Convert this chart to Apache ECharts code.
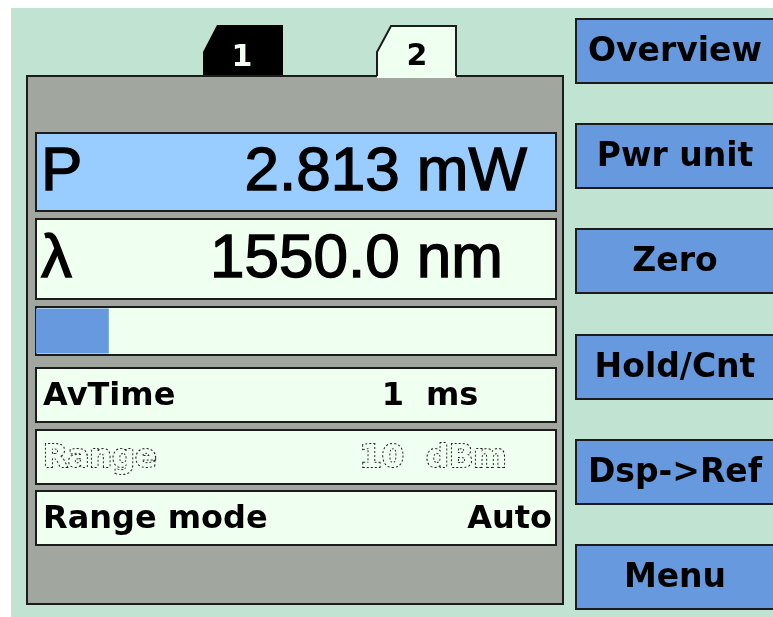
<!DOCTYPE html>
<html>
<head>
<meta charset="utf-8">
<title>Power meter</title>
<script src="https://cdn.jsdelivr.net/npm/echarts@6/dist/echarts.min.js"></script>
<style>
  html, body { margin: 0; padding: 0; background: #ffffff; }
  #chart { width: 773px; height: 617px; }
</style>
</head>
<body>
<div id="chart"></div>
<script>
// data
const tabLabels = ['1', '2'];
const softKeys = ['Overview', 'Pwr unit', 'Zero', 'Hold/Cnt', 'Dsp->Ref', 'Menu'];
const readingNames = ['P', 'λ'];
const readingValues = ['2.813 mW', '1550.0 nm'];
const settingNames = ['AvTime', 'Range', 'Range mode'];
const settingNumbers = ['1', '10', ''];
const settingUnits = ['ms', 'dBm', 'Auto'];
const levelCategories = ['level'];
const levelValues = [14]; // percent of the bar row

const GREEN = '#c1e3d1';
const PANEL = '#a1a69f';
const FIELD = '#effff0';
const BLUE = '#6699dd';
const LINE = '#1c1c1c';
const SMALL = 'bold 32px "DejaVu Sans"';
const BIG = '62px "Liberation Sans"';

let myChart = echarts.init(document.getElementById('chart'));

let g = [];
// background
g.push({ type: 'rect', z: 0, shape: { x: 11, y: 8, width: 800, height: 700 }, style: { fill: GREEN } });

// tabs
g.push({
  type: 'polygon', z: 0,
  shape: { points: [[203, 76], [203, 52], [217, 25], [283, 25], [283, 76]] },
  style: { fill: '#000' }
});
g.push({
  type: 'text', z: 3, x: 242, y: 58,
  style: { text: tabLabels[0], fill: '#f4fff4', font: 'bold 30px "DejaVu Sans"', align: 'center', verticalAlign: 'middle' }
});

// main panel
g.push({
  type: 'rect', z: 0,
  shape: { x: 27, y: 76, width: 536, height: 528 },
  style: { fill: PANEL, stroke: LINE, lineWidth: 2 }
});

// tab 2 (active, open to the panel)
g.push({
  type: 'polygon', z: 1,
  shape: { points: [[377, 78], [377, 52], [391, 25], [456, 25], [456, 78]] },
  style: { fill: FIELD }
});
g.push({
  type: 'polyline', z: 1,
  shape: { points: [[377, 76], [377, 52], [391, 26], [456, 26], [456, 76]] },
  style: { stroke: LINE, lineWidth: 2, fill: null }
});
g.push({
  type: 'text', z: 3, x: 417, y: 57,
  style: { text: tabLabels[1], fill: '#000', font: 'bold 30px "DejaVu Sans"', align: 'center', verticalAlign: 'middle' }
});

// big readings
const readRows = [[133, 78, '#99ccff', 527], [219, 80, FIELD, 503]];
readRows.forEach((r, i) => {
  g.push({
    type: 'rect', z: 1,
    shape: { x: 36, y: r[0], width: 520, height: r[1] },
    style: { fill: r[2], stroke: LINE, lineWidth: 2 }
  });
  g.push({
    type: 'text', z: 3, x: 41, y: r[0] + r[1] / 2 + 1,
    style: { text: readingNames[i], fill: '#000', stroke: '#000', lineWidth: 1.4, font: BIG, verticalAlign: 'middle' }
  });
  g.push({
    type: 'text', z: 3, x: r[3], y: r[0] + r[1] / 2 + 1,
    style: { text: readingValues[i], fill: '#000', stroke: '#000', lineWidth: 1.4, font: BIG, align: 'right', verticalAlign: 'middle' }
  });
});

// settings rows
const setRows = [368, 430, 491];
setRows.forEach((y, i) => {
  const h = 54;
  const cy = y + h / 2 + 2;
  const dim = settingNames[i] === 'Range';
  // the disabled row is drawn as a dotted outline
  const txt = dim
    ? { fill: FIELD, stroke: '#222', lineWidth: 2, lineDash: [2, 2] }
    : { fill: '#000' };
  g.push({
    type: 'rect', z: 1,
    shape: { x: 36, y: y, width: 520, height: h },
    style: { fill: FIELD, stroke: LINE, lineWidth: 2 }
  });
  g.push({
    type: 'text', z: 3, x: 43, y: cy,
    style: Object.assign({ text: settingNames[i], font: SMALL, verticalAlign: 'middle' }, txt)
  });
  if (settingNumbers[i]) {
    g.push({
      type: 'text', z: 3, x: 404, y: cy,
      style: Object.assign({ text: settingNumbers[i], font: SMALL, align: 'right', verticalAlign: 'middle' }, txt)
    });
    g.push({
      type: 'text', z: 3, x: 426, y: cy,
      style: Object.assign({ text: settingUnits[i], font: SMALL, verticalAlign: 'middle' }, txt)
    });
  } else {
    g.push({
      type: 'text', z: 3, x: 552, y: cy,
      style: Object.assign({ text: settingUnits[i], font: SMALL, align: 'right', verticalAlign: 'middle' }, txt)
    });
  }
});

// soft keys
softKeys.forEach((k, i) => {
  const y = 19 + Math.round(i * 105.2);
  g.push({
    type: 'rect', z: 1,
    shape: { x: 576, y: y, width: 220, height: 64 },
    style: { fill: BLUE, stroke: LINE, lineWidth: 2 }
  });
  g.push({
    type: 'text', z: 3, x: 675, y: y + 33,
    style: { text: k, fill: '#000', font: 'bold 33px "DejaVu Sans"', align: 'center', verticalAlign: 'middle' }
  });
});

let option = {
  animation: false,
  graphic: { elements: g },
  grid: {
    show: true,
    left: 36,
    top: 307,
    width: 520,
    height: 48,
    z: 1,
    backgroundColor: FIELD,
    borderColor: LINE,
    borderWidth: 2
  },
  xAxis: {
    type: 'value',
    min: 0,
    max: 100,
    show: false
  },
  yAxis: {
    type: 'category',
    data: levelCategories,
    show: false
  },
  series: [
    {
      name: 'level',
      type: 'bar',
      z: 2,
      barWidth: 45,
      itemStyle: { color: BLUE },
      data: levelValues
    }
  ]
};
myChart.setOption(option, true);
</script>
</body>
</html>
